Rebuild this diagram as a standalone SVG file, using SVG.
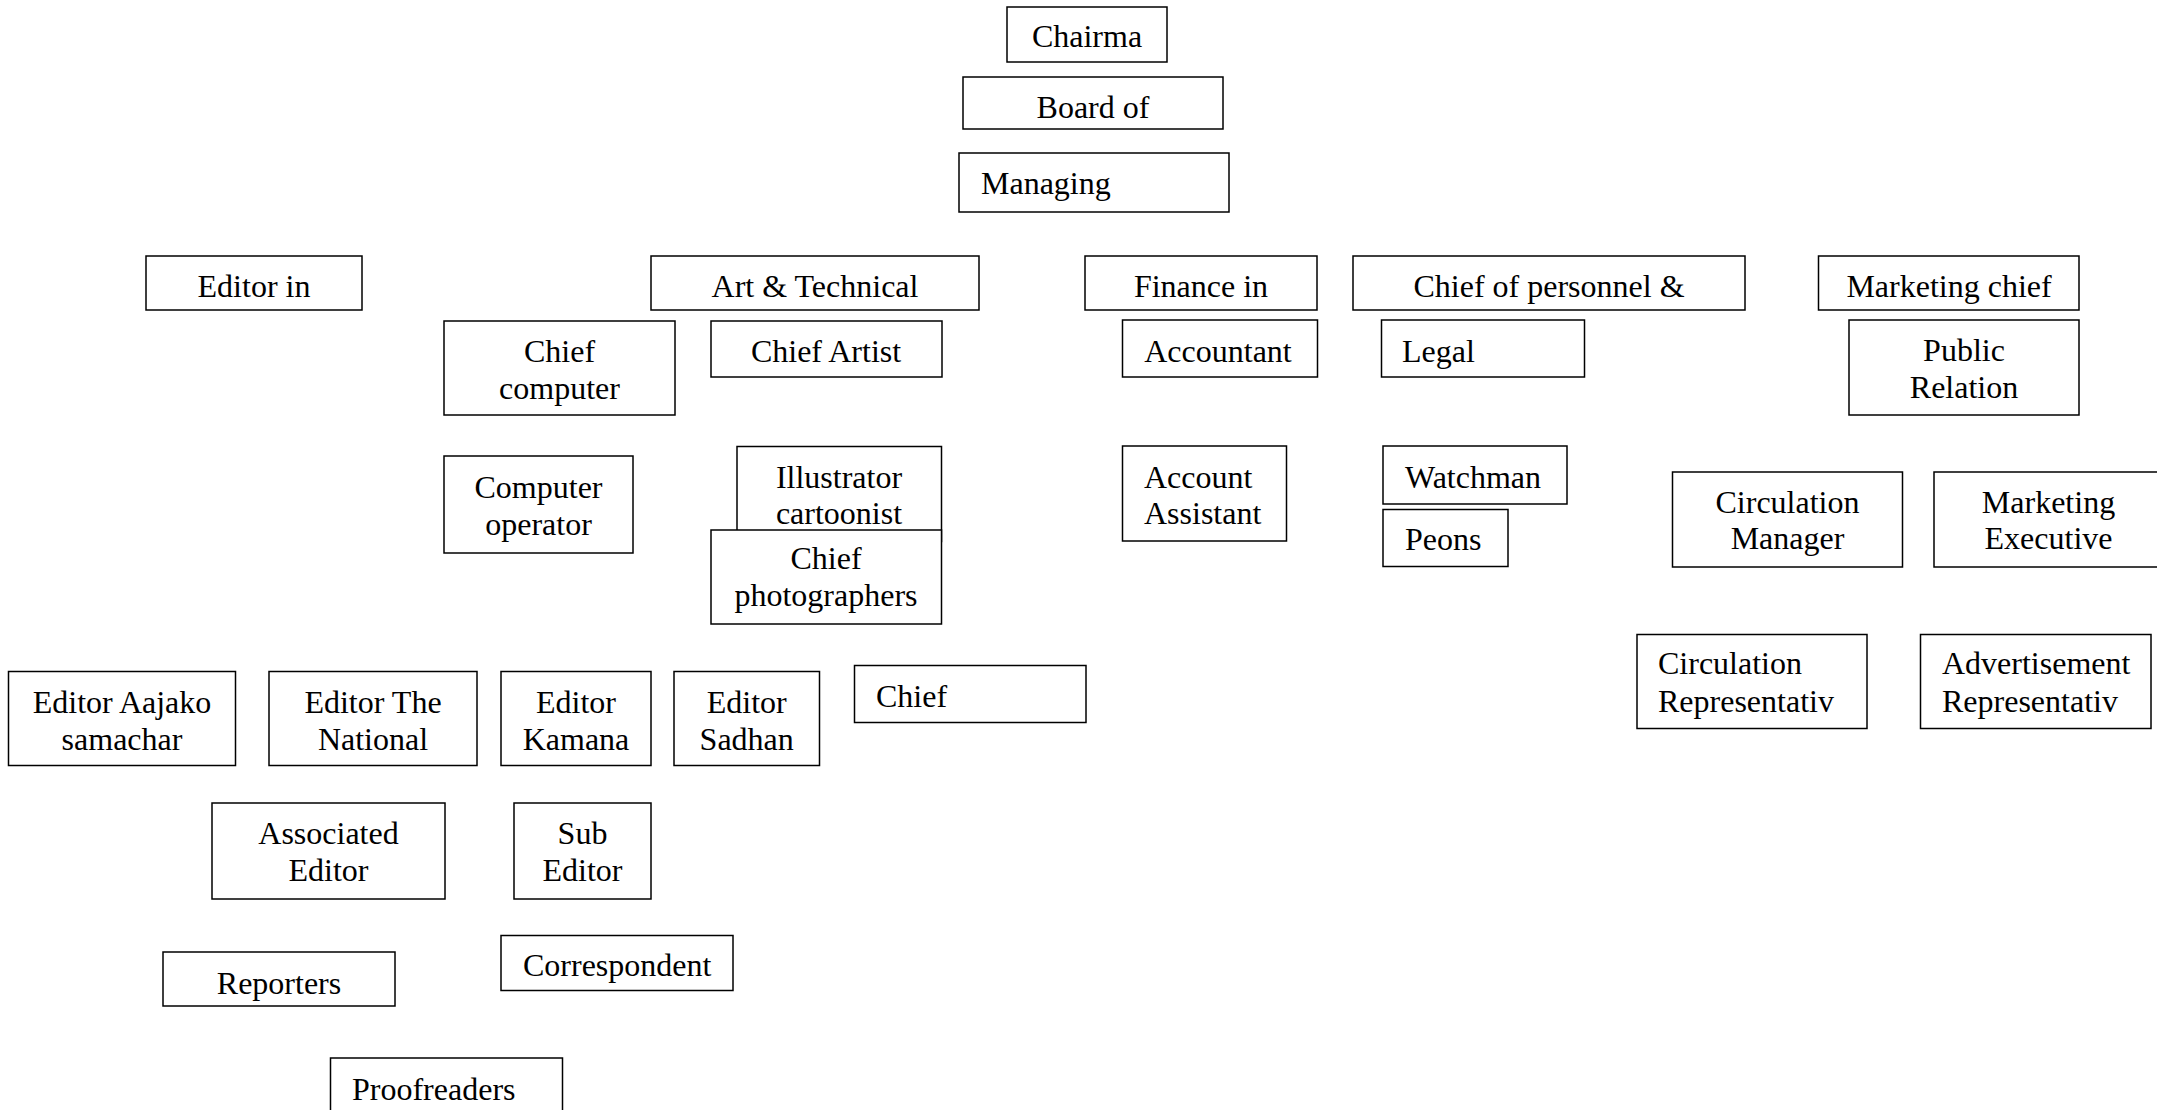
<svg xmlns="http://www.w3.org/2000/svg" width="2157" height="1110" viewBox="0 0 2157 1110">
<style>
.box{fill:#fff;stroke:#000;stroke-width:1.5}
.t{font-family:"Liberation Serif","Times New Roman",serif;font-size:32px;fill:#000}
.c{text-anchor:middle}
</style>
<rect x="0" y="0" width="2157" height="1110" fill="#fff"/>
<g id="connectors"></g>
<g id="chairman"><rect class="box" x="1007" y="7" width="160" height="55"/><text class="t c" x="1087" y="47">Chairma</text></g>
<g id="board"><rect class="box" x="963" y="77" width="260" height="52"/><text class="t c" x="1093" y="118">Board of</text></g>
<g id="managing"><rect class="box" x="959" y="153" width="270" height="59"/><text class="t" x="981" y="194">Managing</text></g>
<g id="editor-in"><rect class="box" x="146" y="256" width="216" height="54"/><text class="t c" x="254" y="297">Editor in</text></g>
<g id="art-technical"><rect class="box" x="651" y="256" width="328" height="54"/><text class="t c" x="815" y="297">Art &amp; Technical</text></g>
<g id="finance"><rect class="box" x="1085" y="256" width="232" height="54"/><text class="t c" x="1201" y="297">Finance in</text></g>
<g id="personnel"><rect class="box" x="1353" y="256" width="392" height="54"/><text class="t c" x="1549" y="297">Chief of personnel &amp;</text></g>
<g id="marketing-chief"><rect class="box" x="1818.5" y="256" width="260.5" height="54"/><text class="t c" x="1949" y="297">Marketing chief</text></g>
<g id="chief-computer"><rect class="box" x="444" y="321" width="231" height="94"/><text class="t c" x="559.5" y="362">Chief</text><text class="t c" x="559.5" y="399">computer</text></g>
<g id="chief-artist"><rect class="box" x="711" y="321" width="231" height="56"/><text class="t c" x="826" y="362">Chief Artist</text></g>
<g id="accountant"><rect class="box" x="1122.5" y="320" width="195" height="57"/><text class="t c" x="1218" y="361.5">Accountant</text></g>
<g id="legal"><rect class="box" x="1381.5" y="320" width="203" height="57"/><text class="t" x="1402" y="361.5">Legal</text></g>
<g id="public-relation"><rect class="box" x="1849" y="320" width="230" height="95"/><text class="t c" x="1964" y="361">Public</text><text class="t c" x="1964" y="398">Relation</text></g>
<g id="computer-operator"><rect class="box" x="444" y="456" width="189" height="97"/><text class="t c" x="538.5" y="497.5">Computer</text><text class="t c" x="538.5" y="535">operator</text></g>
<g id="illustrator"><rect class="box" x="737" y="446.5" width="204.5" height="95"/><text class="t c" x="839" y="487.5">Illustrator</text><text class="t c" x="839" y="523.5">cartoonist</text></g>
<g id="chief-photographers"><rect class="box" x="711" y="530" width="230.5" height="94"/><text class="t c" x="826" y="569">Chief</text><text class="t c" x="826" y="605.5">photographers</text></g>
<g id="account-assistant"><rect class="box" x="1122.5" y="446" width="164" height="95"/><text class="t" x="1144" y="488">Account</text><text class="t" x="1144" y="524">Assistant</text></g>
<g id="watchman"><rect class="box" x="1383" y="446" width="184" height="58"/><text class="t" x="1405" y="487.5">Watchman</text></g>
<g id="peons"><rect class="box" x="1383" y="509.5" width="125" height="57"/><text class="t" x="1405" y="549.5">Peons</text></g>
<g id="circulation-manager"><rect class="box" x="1672.5" y="472" width="230" height="95"/><text class="t c" x="1787.5" y="512.5">Circulation</text><text class="t c" x="1787.5" y="549">Manager</text></g>
<g id="marketing-executive"><rect class="box" x="1934" y="472" width="229" height="95"/><text class="t c" x="2048.5" y="512.5">Marketing</text><text class="t c" x="2048.5" y="549">Executive</text></g>
<g id="editor-aajako"><rect class="box" x="8.5" y="671.5" width="227" height="94"/><text class="t c" x="122" y="712.5">Editor Aajako</text><text class="t c" x="122" y="749.5">samachar</text></g>
<g id="editor-national"><rect class="box" x="269" y="671.5" width="208" height="94"/><text class="t c" x="373" y="712.5">Editor The</text><text class="t c" x="373" y="749.5">National</text></g>
<g id="editor-kamana"><rect class="box" x="501" y="671.5" width="150" height="94"/><text class="t c" x="576" y="712.5">Editor</text><text class="t c" x="576" y="749.5">Kamana</text></g>
<g id="editor-sadhan"><rect class="box" x="674" y="671.5" width="145.5" height="94"/><text class="t c" x="746.7" y="712.5">Editor</text><text class="t c" x="746.7" y="749.5">Sadhan</text></g>
<g id="chief"><rect class="box" x="854.5" y="665.5" width="231.5" height="57"/><text class="t" x="876" y="706.5">Chief</text></g>
<g id="circulation-representative"><rect class="box" x="1637" y="634.5" width="230" height="94"/><text class="t" x="1658" y="674">Circulation</text><text class="t" x="1658" y="711.5">Representativ</text></g>
<g id="advertisement-representative"><rect class="box" x="1920.5" y="634.5" width="230.5" height="94"/><text class="t" x="1942" y="674">Advertisement</text><text class="t" x="1942" y="711.5">Representativ</text></g>
<g id="associated-editor"><rect class="box" x="212" y="803" width="233" height="96"/><text class="t c" x="328.5" y="843.5">Associated</text><text class="t c" x="328.5" y="881">Editor</text></g>
<g id="sub-editor"><rect class="box" x="514" y="803" width="137" height="96"/><text class="t c" x="582.5" y="843.5">Sub</text><text class="t c" x="582.5" y="881">Editor</text></g>
<g id="reporters"><rect class="box" x="163" y="952" width="232" height="54"/><text class="t c" x="279" y="993.5">Reporters</text></g>
<g id="correspondent"><rect class="box" x="501" y="935.5" width="232" height="55"/><text class="t" x="523" y="976">Correspondent</text></g>
<g id="proofreaders"><rect class="box" x="330.5" y="1058" width="232" height="60"/><text class="t" x="352" y="1099.5">Proofreaders</text></g>
</svg>
